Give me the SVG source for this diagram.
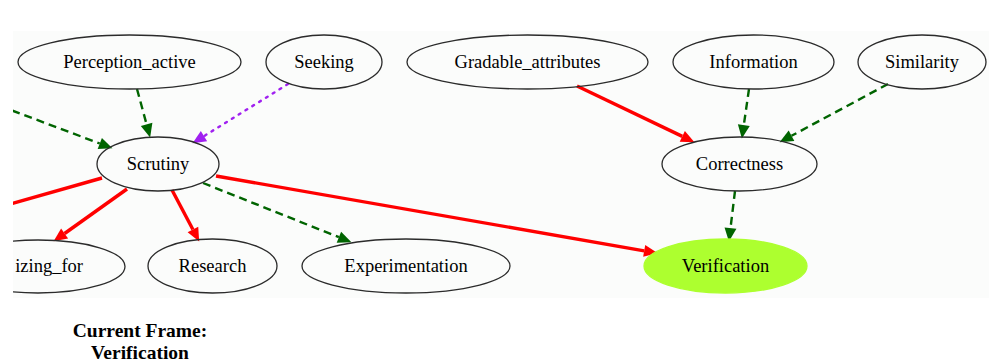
<svg xmlns="http://www.w3.org/2000/svg" width="989" height="362" viewBox="0 0 989 362">
<style>
.node ellipse{fill:none;stroke:#2b2b2b;stroke-width:1.3}
.node text,.title{font-family:"Liberation Serif","Times New Roman",serif;font-size:18.5px;fill:#000;text-anchor:middle}
.title{font-weight:bold;font-size:19.5px}
.red{fill:none;stroke:#ff0000;stroke-width:3.4}
.green{fill:none;stroke:#006400;stroke-width:2.4;stroke-dasharray:8,5}
.purple{fill:none;stroke:#a020f0;stroke-width:2.4;stroke-dasharray:2,6;stroke-linecap:round}
</style>
<defs>
<clipPath id="panel"><rect x="13" y="31" width="976" height="267"/></clipPath>
<marker id="ar" markerUnits="userSpaceOnUse" markerWidth="14" markerHeight="13" refX="0" refY="6.5" orient="auto" overflow="visible"><path d="M0,0.5 L13.5,6.5 L0,12.5 z" fill="#ff0000"/></marker>
<marker id="ag" markerUnits="userSpaceOnUse" markerWidth="14" markerHeight="13" refX="0" refY="6.5" orient="auto" overflow="visible"><path d="M0,0.5 L13.5,6.5 L0,12.5 z" fill="#006400"/></marker>
<marker id="ap" markerUnits="userSpaceOnUse" markerWidth="14" markerHeight="13" refX="0" refY="6.5" orient="auto" overflow="visible"><path d="M0,0.5 L13.5,6.5 L0,12.5 z" fill="#a020f0"/></marker>
</defs>
<rect x="13" y="31" width="976" height="267" fill="#fbfcfb"/>
<g clip-path="url(#panel)">
<g id="connectors">
<path class="green" d="M0,106 L99.8,143.5" marker-end="url(#ag)"/>
<path class="green" d="M137,89 L146.6,124.4" marker-end="url(#ag)"/>
<path class="purple" d="M288,84 L204,136.1" marker-end="url(#ap)"/>
<path class="red" d="M577,86 L682.3,136.4" marker-end="url(#ar)"/>
<path class="green" d="M749,89 L743.8,125.1" marker-end="url(#ag)"/>
<path class="green" d="M888,84 L791.5,135.8" marker-end="url(#ag)"/>
<path class="green" d="M735,191 L730.5,228.1" marker-end="url(#ag)"/>
<path class="red" d="M216,176 L644.2,250.8" marker-end="url(#ar)"/>
<path class="red" d="M127,189 L64.6,233.5" marker-end="url(#ar)"/>
<path class="red" d="M172,190 L192.9,229.5" marker-end="url(#ar)"/>
<path class="green" d="M203,183 L338.9,237.2" marker-end="url(#ag)"/>
<path class="red" d="M102,178 L0,207"/>
</g>
<g id="Perception_active" class="node"><ellipse cx="129.5" cy="62" rx="111.5" ry="27"/><text x="129.5" y="67.5">Perception_active</text></g>
<g id="Seeking" class="node"><ellipse cx="324" cy="62" rx="58" ry="27"/><text x="324" y="67.5">Seeking</text></g>
<g id="Gradable_attributes" class="node"><ellipse cx="527.5" cy="62" rx="120.5" ry="27"/><text x="527.5" y="67.5">Gradable_attributes</text></g>
<g id="Information" class="node"><ellipse cx="753.5" cy="62" rx="80.5" ry="27"/><text x="753.5" y="67.5">Information</text></g>
<g id="Similarity" class="node"><ellipse cx="922" cy="62" rx="64" ry="27"/><text x="922" y="67.5">Similarity</text></g>
<g id="Scrutiny" class="node"><ellipse cx="158" cy="164" rx="61" ry="27"/><text x="158" y="169.5">Scrutiny</text></g>
<g id="Correctness" class="node"><ellipse cx="739.5" cy="164" rx="77.5" ry="27"/><text x="739.5" y="169.5">Correctness</text></g>
<g id="izing_for" class="node"><ellipse cx="38" cy="266.5" rx="87" ry="26.5"/><text x="83" y="271.5" style="text-anchor:end">izing_for</text></g>
<g id="Research" class="node"><ellipse cx="212.5" cy="266" rx="64.5" ry="27"/><text x="212.5" y="271.5">Research</text></g>
<g id="Experimentation" class="node"><ellipse cx="406" cy="266" rx="104" ry="27"/><text x="406" y="271.5">Experimentation</text></g>
<g id="Verification" class="node"><ellipse cx="725.5" cy="266" rx="81.5" ry="27" style="fill:#adff2f;stroke:#adff2f"/><text x="725.5" y="271.5">Verification</text></g>
</g>
<text class="title" x="140" y="337">Current Frame:</text>
<text class="title" x="140" y="359">Verification</text>
</svg>
